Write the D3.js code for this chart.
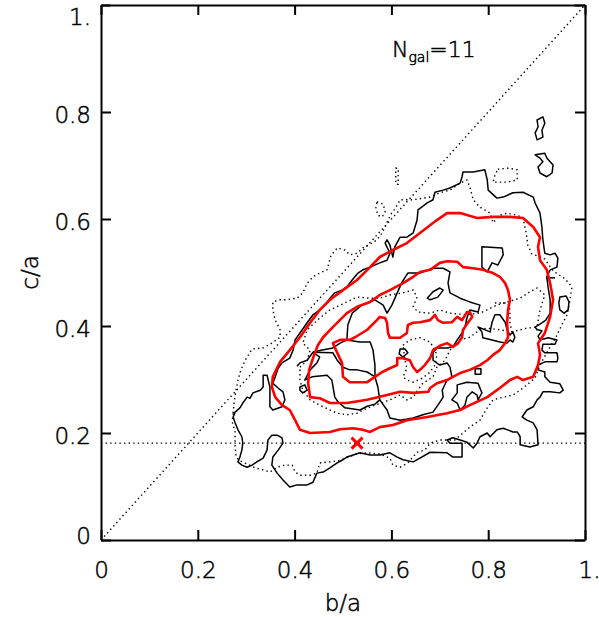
<!DOCTYPE html>
<html>
<head>
<meta charset="utf-8">
<script src="https://cdn.jsdelivr.net/npm/d3@7"></script>
<style>
  body { margin: 0; background: #fff; }
  svg text { font-family: "DejaVu Sans", sans-serif; font-weight: 200; fill: #000; stroke: #000; stroke-width: 0.5px; }
</style>
</head>
<body>
<svg id="chart" width="599" height="617"></svg>
<script>
// ---- axis ticks ----
const tickValues = [0, 0.2, 0.4, 0.6, 0.8, 1];
const tickLabels = ["0", "0.2", "0.4", "0.6", "0.8", "1."];
const galaxyCount = 11;
// axis ratios of the reference galaxy (b/a, c/a)
const galaxyPoint = [0.529, 0.181];

// ---- red contours (b/a, c/a), outer to inner ----
const redOuter = [[0.353,0.286],[0.355,0.305],[0.370,0.333],[0.390,0.355],[0.411,0.379],[0.432,0.406],[0.452,0.430],[0.473,0.449],[0.500,0.467],[0.529,0.486],[0.556,0.510],[0.576,0.529],[0.603,0.542],[0.632,0.555],[0.659,0.574],[0.694,0.598],[0.715,0.611],[0.742,0.611],[0.777,0.602],[0.810,0.604],[0.845,0.604],[0.872,0.602],[0.893,0.585],[0.907,0.566],[0.903,0.548],[0.907,0.523],[0.921,0.505],[0.928,0.480],[0.934,0.449],[0.928,0.417],[0.917,0.387],[0.903,0.368],[0.907,0.346],[0.903,0.327],[0.893,0.305],[0.872,0.299],[0.860,0.305],[0.845,0.299],[0.824,0.284],[0.798,0.267],[0.762,0.252],[0.742,0.243],[0.715,0.237],[0.674,0.230],[0.632,0.224],[0.603,0.215],[0.576,0.211],[0.556,0.202],[0.541,0.206],[0.521,0.209],[0.494,0.207],[0.473,0.202],[0.432,0.200],[0.411,0.206],[0.401,0.224],[0.390,0.243],[0.374,0.252],[0.360,0.267]];
const redMiddle = [[0.432,0.267],[0.428,0.293],[0.430,0.318],[0.438,0.340],[0.448,0.364],[0.459,0.379],[0.479,0.398],[0.508,0.424],[0.529,0.436],[0.556,0.445],[0.576,0.458],[0.597,0.467],[0.624,0.480],[0.645,0.492],[0.659,0.501],[0.680,0.505],[0.700,0.518],[0.715,0.521],[0.736,0.520],[0.748,0.510],[0.769,0.508],[0.789,0.505],[0.810,0.499],[0.824,0.492],[0.835,0.480],[0.841,0.467],[0.845,0.449],[0.841,0.430],[0.839,0.406],[0.841,0.379],[0.835,0.368],[0.824,0.355],[0.810,0.346],[0.798,0.336],[0.783,0.327],[0.762,0.318],[0.742,0.312],[0.727,0.305],[0.715,0.299],[0.694,0.293],[0.680,0.284],[0.676,0.277],[0.645,0.275],[0.618,0.277],[0.591,0.271],[0.550,0.262],[0.508,0.256],[0.473,0.256],[0.452,0.265]];
const redInner = [[0.479,0.368],[0.494,0.374],[0.514,0.374],[0.525,0.379],[0.550,0.393],[0.570,0.411],[0.576,0.417],[0.587,0.415],[0.591,0.406],[0.593,0.387],[0.597,0.378],[0.618,0.378],[0.632,0.387],[0.634,0.402],[0.645,0.406],[0.659,0.407],[0.680,0.411],[0.690,0.421],[0.696,0.411],[0.707,0.406],[0.725,0.407],[0.736,0.417],[0.746,0.411],[0.756,0.426],[0.762,0.426],[0.767,0.417],[0.758,0.406],[0.748,0.393],[0.746,0.379],[0.738,0.368],[0.727,0.361],[0.715,0.368],[0.700,0.363],[0.686,0.355],[0.680,0.340],[0.669,0.327],[0.659,0.318],[0.653,0.314],[0.645,0.323],[0.638,0.336],[0.622,0.340],[0.612,0.340],[0.612,0.327],[0.597,0.321],[0.581,0.314],[0.566,0.305],[0.550,0.295],[0.514,0.295],[0.500,0.305],[0.498,0.331],[0.488,0.350]];

// ---- black solid contours ----
const blackOuter = [[0.397,0.355],[0.401,0.374],[0.411,0.387],[0.426,0.406],[0.438,0.421],[0.452,0.430],[0.467,0.443],[0.473,0.452],[0.483,0.462],[0.498,0.467],[0.508,0.473],[0.519,0.486],[0.531,0.499],[0.541,0.505],[0.556,0.510],[0.576,0.518],[0.591,0.523],[0.597,0.536],[0.587,0.555],[0.591,0.561],[0.597,0.551],[0.603,0.529],[0.607,0.548],[0.618,0.566],[0.632,0.566],[0.645,0.574],[0.653,0.598],[0.655,0.617],[0.674,0.630],[0.686,0.636],[0.690,0.650],[0.707,0.654],[0.721,0.658],[0.742,0.667],[0.746,0.679],[0.748,0.688],[0.769,0.688],[0.793,0.692],[0.798,0.673],[0.800,0.654],[0.818,0.639],[0.831,0.641],[0.851,0.649],[0.872,0.650],[0.893,0.641],[0.897,0.630],[0.907,0.611],[0.911,0.585],[0.913,0.561],[0.917,0.536],[0.928,0.533],[0.938,0.536],[0.944,0.527],[0.942,0.510],[0.928,0.505],[0.921,0.492],[0.924,0.471],[0.928,0.449],[0.928,0.424],[0.919,0.411],[0.911,0.406],[0.897,0.398],[0.901,0.393],[0.911,0.391],[0.903,0.381],[0.907,0.374],[0.924,0.378],[0.942,0.374],[0.938,0.366],[0.913,0.366],[0.911,0.355],[0.917,0.350],[0.942,0.350],[0.944,0.340],[0.942,0.333],[0.917,0.333],[0.903,0.327],[0.903,0.318],[0.917,0.314],[0.917,0.305],[0.928,0.295],[0.948,0.292],[0.955,0.280],[0.948,0.275],[0.928,0.277],[0.913,0.277],[0.907,0.267],[0.901,0.262],[0.893,0.249],[0.880,0.243],[0.870,0.230],[0.880,0.224],[0.893,0.219],[0.901,0.206],[0.903,0.178],[0.886,0.174],[0.866,0.178],[0.866,0.193],[0.860,0.202],[0.851,0.202],[0.831,0.209],[0.818,0.206],[0.804,0.193],[0.798,0.200],[0.783,0.193],[0.777,0.181],[0.769,0.172],[0.756,0.183],[0.742,0.187],[0.727,0.191],[0.715,0.187],[0.721,0.181],[0.746,0.181],[0.746,0.155],[0.727,0.155],[0.715,0.163],[0.680,0.164],[0.659,0.153],[0.645,0.146],[0.624,0.150],[0.612,0.155],[0.597,0.163],[0.576,0.159],[0.556,0.159],[0.535,0.163],[0.521,0.159],[0.508,0.155],[0.500,0.150],[0.488,0.144],[0.473,0.135],[0.459,0.127],[0.446,0.125],[0.438,0.108],[0.426,0.103],[0.405,0.103],[0.390,0.099],[0.376,0.112],[0.364,0.125],[0.353,0.140],[0.355,0.155],[0.366,0.168],[0.376,0.181],[0.374,0.191],[0.364,0.196],[0.353,0.196],[0.345,0.187],[0.343,0.168],[0.335,0.153],[0.322,0.146],[0.312,0.140],[0.302,0.136],[0.291,0.140],[0.283,0.146],[0.287,0.155],[0.291,0.168],[0.293,0.181],[0.291,0.193],[0.283,0.206],[0.277,0.219],[0.273,0.230],[0.277,0.239],[0.287,0.247],[0.293,0.256],[0.302,0.267],[0.308,0.265],[0.314,0.275],[0.329,0.280],[0.335,0.286],[0.335,0.308],[0.343,0.308],[0.349,0.286],[0.349,0.249],[0.355,0.243],[0.374,0.249],[0.380,0.262],[0.376,0.277],[0.366,0.284],[0.355,0.293],[0.360,0.305],[0.366,0.321],[0.374,0.331],[0.390,0.340]];
const blackMiddle = [[0.508,0.374],[0.510,0.402],[0.519,0.424],[0.539,0.439],[0.566,0.449],[0.583,0.439],[0.591,0.424],[0.601,0.439],[0.612,0.462],[0.622,0.482],[0.634,0.499],[0.659,0.499],[0.686,0.508],[0.707,0.508],[0.721,0.501],[0.717,0.480],[0.721,0.462],[0.742,0.452],[0.762,0.445],[0.783,0.439],[0.779,0.426],[0.762,0.430],[0.756,0.415],[0.752,0.398],[0.746,0.387],[0.736,0.374],[0.727,0.361],[0.715,0.359],[0.694,0.359],[0.686,0.351],[0.686,0.336],[0.700,0.327],[0.715,0.331],[0.721,0.323],[0.725,0.305],[0.715,0.299],[0.705,0.280],[0.707,0.267],[0.696,0.252],[0.686,0.239],[0.665,0.234],[0.645,0.228],[0.618,0.224],[0.597,0.228],[0.591,0.243],[0.576,0.262],[0.572,0.286],[0.566,0.305],[0.566,0.327],[0.562,0.355],[0.556,0.370],[0.535,0.370]];
// open strands of the inner black levels
const blackStrands = [
  [[0.405,0.325],[0.411,0.331],[0.426,0.336],[0.438,0.351],[0.457,0.355],[0.479,0.359],[0.494,0.368],[0.508,0.374]],
  [[0.438,0.351],[0.479,0.350],[0.488,0.336],[0.500,0.323],[0.514,0.318],[0.529,0.318],[0.550,0.314],[0.566,0.305]],
  [[0.438,0.351],[0.452,0.342],[0.446,0.331],[0.432,0.318],[0.421,0.299],[0.436,0.305],[0.467,0.308],[0.477,0.299],[0.483,0.267],[0.490,0.258],[0.504,0.247],[0.535,0.243],[0.550,0.250],[0.566,0.254],[0.576,0.262]],
  [[0.921,0.490],[0.938,0.490]]
];
// small closed black islands
const blackIslands = [
  [[0.901,0.785],[0.913,0.791],[0.917,0.779],[0.911,0.766],[0.913,0.753],[0.901,0.748],[0.897,0.761],[0.903,0.772]],
  [[0.897,0.720],[0.917,0.723],[0.921,0.714],[0.934,0.701],[0.932,0.686],[0.921,0.679],[0.907,0.686],[0.903,0.697],[0.913,0.707],[0.907,0.714]],
  [[0.948,0.454],[0.961,0.456],[0.967,0.445],[0.965,0.430],[0.957,0.424],[0.948,0.430],[0.946,0.443]],
  [[0.787,0.548],[0.829,0.546],[0.831,0.533],[0.820,0.514],[0.808,0.518],[0.798,0.501],[0.787,0.510]],
  [[0.411,0.286],[0.421,0.290],[0.426,0.280],[0.417,0.275],[0.411,0.280]],
  [[0.618,0.357],[0.628,0.357],[0.634,0.350],[0.624,0.342],[0.616,0.348]],
  [[0.674,0.452],[0.686,0.464],[0.700,0.471],[0.707,0.467],[0.696,0.454],[0.680,0.449]],
  [[0.779,0.398],[0.804,0.389],[0.808,0.407],[0.814,0.421],[0.824,0.421],[0.835,0.407],[0.839,0.393],[0.845,0.383],[0.851,0.389],[0.855,0.379],[0.851,0.370],[0.845,0.374],[0.839,0.368],[0.824,0.370],[0.808,0.374],[0.789,0.378],[0.787,0.389]],
  [[0.736,0.290],[0.756,0.295],[0.779,0.293],[0.787,0.275],[0.779,0.262],[0.777,0.271],[0.767,0.277],[0.756,0.267],[0.752,0.252],[0.742,0.243],[0.736,0.256],[0.725,0.262],[0.736,0.275]],
  [[0.773,0.320],[0.785,0.320],[0.785,0.310],[0.773,0.310]]
];

// ---- black dotted contours ----
const dottedOuter = [[0.273,0.237],[0.271,0.221],[0.277,0.202],[0.277,0.178],[0.279,0.155],[0.287,0.148],[0.302,0.142],[0.318,0.135],[0.335,0.131],[0.349,0.127],[0.364,0.136],[0.380,0.140],[0.395,0.140],[0.401,0.127],[0.411,0.121],[0.432,0.121],[0.446,0.125],[0.452,0.144],[0.473,0.146],[0.490,0.148],[0.504,0.153],[0.529,0.161],[0.550,0.163],[0.576,0.161],[0.597,0.153],[0.603,0.140],[0.618,0.136],[0.634,0.144],[0.653,0.164],[0.669,0.168],[0.680,0.181],[0.700,0.187],[0.731,0.187],[0.748,0.200],[0.762,0.211],[0.783,0.224],[0.798,0.247],[0.810,0.262],[0.831,0.267],[0.851,0.271],[0.866,0.280],[0.880,0.290],[0.897,0.303],[0.907,0.327],[0.924,0.355],[0.940,0.379],[0.952,0.402],[0.963,0.421],[0.969,0.449],[0.973,0.473],[0.959,0.488],[0.934,0.503],[0.917,0.525],[0.890,0.535],[0.882,0.551],[0.878,0.576],[0.872,0.602],[0.860,0.607],[0.839,0.611],[0.824,0.607],[0.810,0.593],[0.804,0.611],[0.783,0.622],[0.769,0.636],[0.762,0.660],[0.756,0.673],[0.742,0.667],[0.721,0.654],[0.700,0.649],[0.680,0.641],[0.645,0.636],[0.618,0.636],[0.609,0.621],[0.599,0.609],[0.593,0.598],[0.587,0.585],[0.581,0.574],[0.570,0.561],[0.556,0.553],[0.541,0.546],[0.529,0.536],[0.514,0.533],[0.504,0.542],[0.488,0.546],[0.475,0.531],[0.467,0.505],[0.452,0.499],[0.438,0.492],[0.426,0.480],[0.417,0.462],[0.405,0.452],[0.384,0.449],[0.370,0.449],[0.355,0.445],[0.355,0.430],[0.360,0.411],[0.370,0.393],[0.370,0.379],[0.353,0.368],[0.335,0.359],[0.312,0.357],[0.298,0.336],[0.289,0.318],[0.283,0.299],[0.279,0.280],[0.275,0.258]];
const dottedMiddle = [[0.411,0.323],[0.426,0.336],[0.432,0.355],[0.417,0.368],[0.426,0.393],[0.452,0.415],[0.473,0.430],[0.494,0.439],[0.529,0.454],[0.556,0.452],[0.576,0.452],[0.597,0.458],[0.624,0.462],[0.645,0.467],[0.653,0.454],[0.645,0.436],[0.655,0.426],[0.680,0.424],[0.700,0.430],[0.721,0.424],[0.752,0.421],[0.783,0.424],[0.818,0.439],[0.839,0.445],[0.866,0.452],[0.886,0.464],[0.901,0.471],[0.917,0.458],[0.907,0.430],[0.901,0.398],[0.880,0.396],[0.849,0.389],[0.824,0.393],[0.798,0.396],[0.783,0.393],[0.762,0.379],[0.742,0.374],[0.721,0.355],[0.711,0.336],[0.694,0.323],[0.686,0.305],[0.665,0.293],[0.659,0.286],[0.645,0.267],[0.632,0.262],[0.618,0.271],[0.597,0.262],[0.566,0.252],[0.541,0.243],[0.529,0.237],[0.508,0.234],[0.488,0.237],[0.473,0.243],[0.452,0.252],[0.432,0.262],[0.417,0.280],[0.411,0.299]];
const dottedInner = [[0.624,0.364],[0.638,0.374],[0.659,0.378],[0.680,0.370],[0.686,0.361],[0.694,0.346],[0.690,0.327],[0.680,0.314],[0.665,0.303],[0.645,0.295],[0.632,0.299],[0.624,0.305],[0.632,0.321],[0.628,0.336]];
const dottedStrands = [
  [[0.814,0.443],[0.841,0.443],[0.845,0.430],[0.845,0.406],[0.849,0.389]]
];
const dottedIslands = [
  [[0.570,0.632],[0.583,0.628],[0.587,0.613],[0.581,0.604],[0.572,0.607],[0.568,0.621]],
  [[0.609,0.695],[0.614,0.695],[0.614,0.665],[0.609,0.665]],
  [[0.820,0.693],[0.841,0.695],[0.860,0.692],[0.860,0.673],[0.839,0.669],[0.810,0.669],[0.814,0.682]]
];

// ---- layout ----
const svg = d3.select("#chart");
const plotLeft = 101, plotRight = 585, plotTop = 5, plotBottom = 540;
const fontSize = 23;

const x = d3.scaleLinear().domain([0, 1]).range([plotLeft, plotRight]);
const y = d3.scaleLinear().domain([0, 1]).range([plotBottom, plotTop]);

const closedLine = d3.line().x(d => x(d[0])).y(d => y(d[1])).curve(d3.curveLinearClosed);
const openLine = d3.line().x(d => x(d[0])).y(d => y(d[1]));

const plot = svg.append("g");

function styled(sel, attrs) { Object.entries(attrs).forEach(([k, v]) => sel.attr(k, v)); return sel; }

// reference lines: b/a = c/a and the galaxy's c/a
const dots = { stroke: "#000", "stroke-width": 1.4, "stroke-dasharray": "1.4 3.2", fill: "none" };
styled(plot.append("path").attr("d", openLine([[0, 0], [1, 1]])), dots);
styled(plot.append("path").attr("d", openLine([[0, galaxyPoint[1]], [1, galaxyPoint[1]]])), dots);

// dotted contours
[dottedOuter, dottedMiddle, dottedInner, ...dottedIslands]
  .forEach(c => styled(plot.append("path").attr("d", closedLine(c)), dots));
dottedStrands.forEach(c => styled(plot.append("path").attr("d", openLine(c)), dots));

// black solid contours
const solid = { stroke: "#000", "stroke-width": 1.5, fill: "none", "stroke-linejoin": "round" };
[blackOuter, blackMiddle, ...blackIslands]
  .forEach(c => styled(plot.append("path").attr("d", closedLine(c)), solid));
blackStrands.forEach(c => styled(plot.append("path").attr("d", openLine(c)), solid));

// red contours
const red = { stroke: "#ff0000", "stroke-width": 2.6, fill: "none", "stroke-linejoin": "round" };
[redOuter, redMiddle, redInner].forEach(c => styled(plot.append("path").attr("d", closedLine(c)), red));

// galaxy marker
const gx = x(galaxyPoint[0]), gy = y(galaxyPoint[1]), m = 5.5;
plot.append("path")
  .attr("d", `M${gx - m},${gy - m}L${gx + m},${gy + m}M${gx - m},${gy + m}L${gx + m},${gy - m}`)
  .attr("stroke", "#ff0000").attr("stroke-width", 3).attr("fill", "none");

// ---- axes (ticks point inward on all four sides) ----
const fmt = d => tickLabels[tickValues.indexOf(d)];
function styleAxis(g) {
  g.selectAll("path.domain").attr("stroke", "#000").attr("stroke-width", 2);
  g.selectAll(".tick line").attr("stroke", "#000").attr("stroke-width", 2);
  g.selectAll("text").attr("font-size", fontSize).attr("font-family", "DejaVu Sans, sans-serif")
    .attr("font-weight", 200).attr("fill", "#000").attr("stroke", "#000").attr("stroke-width", 0.5);
}
const xAxis = svg.append("g").attr("transform", `translate(0,${plotBottom})`)
  .call(d3.axisBottom(x).tickValues(tickValues).tickFormat(fmt).tickSizeInner(-10).tickSizeOuter(0).tickPadding(22))
  .call(styleAxis);
xAxis.selectAll(".tick text").filter(d => d === 1).attr("dx", 4);

svg.append("g").attr("transform", `translate(0,${plotTop})`)
  .call(d3.axisTop(x).tickValues(tickValues).tickFormat("").tickSizeInner(-10).tickSizeOuter(0))
  .call(styleAxis);

const yAxis = svg.append("g").attr("transform", `translate(${plotLeft},0)`)
  .call(d3.axisLeft(y).tickValues(tickValues).tickFormat(fmt).tickSizeInner(-10).tickSizeOuter(0).tickPadding(10))
  .call(styleAxis);
yAxis.selectAll(".tick text").attr("dy", "0.45em");
yAxis.selectAll(".tick text").filter(d => d === 1).attr("dy", "0.85em");
yAxis.selectAll(".tick text").filter(d => d === 0).attr("dy", "0.15em");

svg.append("g").attr("transform", `translate(${plotRight},0)`)
  .call(d3.axisRight(y).tickValues(tickValues).tickFormat("").tickSizeInner(-10).tickSizeOuter(0))
  .call(styleAxis);

// axis titles
svg.append("text").attr("x", (plotLeft + plotRight) / 2).attr("y", 611)
  .attr("text-anchor", "middle").attr("font-size", fontSize).text("b/a");
svg.append("text").attr("transform", `translate(38,${(plotTop + plotBottom) / 2}) rotate(-90)`)
  .attr("text-anchor", "middle").attr("font-size", fontSize).text("c/a");

// sample size annotation
const ann = svg.append("text").attr("x", 392).attr("y", 57).attr("font-size", 22);
ann.append("tspan").text("N");
ann.append("tspan").attr("font-size", 14).attr("dy", 5).text("gal");
ann.append("tspan").attr("dy", -5).text("=" + galaxyCount);
</script>
</body>
</html>
